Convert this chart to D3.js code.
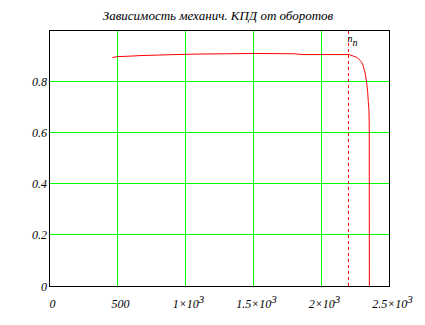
<!DOCTYPE html>
<html>
<head>
<meta charset="utf-8">
<script src="https://cdn.jsdelivr.net/npm/d3@7"></script>
<style>
  body { margin: 0; background: #fff; }
  text { font-family: "Liberation Serif", "DejaVu Serif", serif; font-style: italic; fill: #000; }
</style>
</head>
<body>
<div id="chart"></div>
<script>
// revolutions (rpm) and mechanical efficiency
var rpm = [462, 496, 600, 665, 800, 915, 1100, 1300, 1437, 1600, 1800, 1864, 2000, 2100, 2205,
           2234, 2255, 2271, 2285, 2296, 2305, 2312, 2320, 2325, 2332, 2340, 2344, 2349, 2351, 2352];
var eff = [0.894, 0.898, 0.900, 0.902, 0.904, 0.906, 0.908, 0.909, 0.910, 0.910, 0.909, 0.906, 0.906, 0.906, 0.906,
           0.900, 0.896, 0.890, 0.883, 0.875, 0.865, 0.851, 0.836, 0.822, 0.796, 0.757, 0.723, 0.691, 0.626, 0];
var nNominal = 2205;

var xTicks = [0, 500, 1000, 1500, 2000, 2500];
var xTickLabels = [["0"], ["500"], ["1\u00d710", "3"], ["1.5\u00d710", "3"], ["2\u00d710", "3"], ["2.5\u00d710", "3"]];
var yTicks = [0, 0.2, 0.4, 0.6, 0.8];
var yTickLabels = ["0", "0.2", "0.4", "0.6", "0.8"];

var width = 425, height = 325;
var svg = d3.select("#chart").append("svg")
    .attr("width", width)
    .attr("height", height);

var x = d3.scaleLinear().domain([0, 2500]).range([49.5, 389.5]),
    y = d3.scaleLinear().domain([0, 1]).range([286.5, 30.5]);

// title
svg.append("text")
    .attr("x", 218)
    .attr("y", 20)
    .attr("text-anchor", "middle")
    .style("font-size", "13px")
    .text("Зависимость механич. КПД от оборотов");

// grid
svg.selectAll(".gx")
    .data(xTicks.filter(function(d) { return d > 0 && d < 2500; }))
    .enter().append("line")
    .attr("x1", function(d) { return Math.round(x(d)) - 0.5; })
    .attr("x2", function(d) { return Math.round(x(d)) - 0.5; })
    .attr("y1", y(0)).attr("y2", y(1))
    .style("stroke", "#00ff00")
    .style("shape-rendering", "crispEdges");

svg.selectAll(".gy")
    .data(yTicks.filter(function(d) { return d > 0; }))
    .enter().append("line")
    .attr("x1", x(0)).attr("x2", x(2500))
    .attr("y1", function(d) { return Math.round(y(d)) - 0.5; })
    .attr("y2", function(d) { return Math.round(y(d)) - 0.5; })
    .style("stroke", "#00ff00")
    .style("shape-rendering", "crispEdges");

// nominal speed marker
svg.append("line")
    .attr("x1", Math.round(x(nNominal)) - 0.5).attr("x2", Math.round(x(nNominal)) - 0.5)
    .attr("y1", y(1)).attr("y2", y(0))
    .style("stroke", "#ff0000")
    .style("stroke-dasharray", "3,3")
    .style("shape-rendering", "crispEdges");

var nl = svg.append("text")
    .attr("x", x(nNominal) - 2)
    .attr("y", 42)
    .style("font-size", "10px");
nl.append("tspan").text("n");
nl.append("tspan").attr("dy", 4).text("n");

// curve
var line = d3.line()
    .x(function(d, i) { return x(rpm[i]); })
    .y(function(d) { return y(d); });

svg.append("path")
    .datum(eff)
    .attr("d", line)
    .style("fill", "none")
    .style("stroke", "#ff0000")
    .style("stroke-width", 1);

// frame
svg.append("rect")
    .attr("x", x(0)).attr("y", y(1))
    .attr("width", x(2500) - x(0))
    .attr("height", y(0) - y(1))
    .style("fill", "none")
    .style("stroke", "#000")
    .style("shape-rendering", "crispEdges");

// tick labels
svg.selectAll(".yl")
    .data(yTicks)
    .enter().append("text")
    .attr("x", 47)
    .attr("y", function(d) { return y(d) + 4; })
    .attr("text-anchor", "end")
    .style("font-size", "12px")
    .text(function(d, i) { return yTickLabels[i]; });

svg.selectAll(".xl")
    .data(xTicks)
    .enter().append("text")
    .attr("x", function(d) { return x(d) + 3; })
    .attr("y", 308)
    .attr("text-anchor", "middle")
    .style("font-size", "12px")
    .each(function(d, i) {
      var t = d3.select(this);
      t.append("tspan").text(xTickLabels[i][0]);
      if (xTickLabels[i][1]) t.append("tspan").attr("dy", -5).style("font-size", "11px").text(xTickLabels[i][1]);
    });
</script>
</body>
</html>
